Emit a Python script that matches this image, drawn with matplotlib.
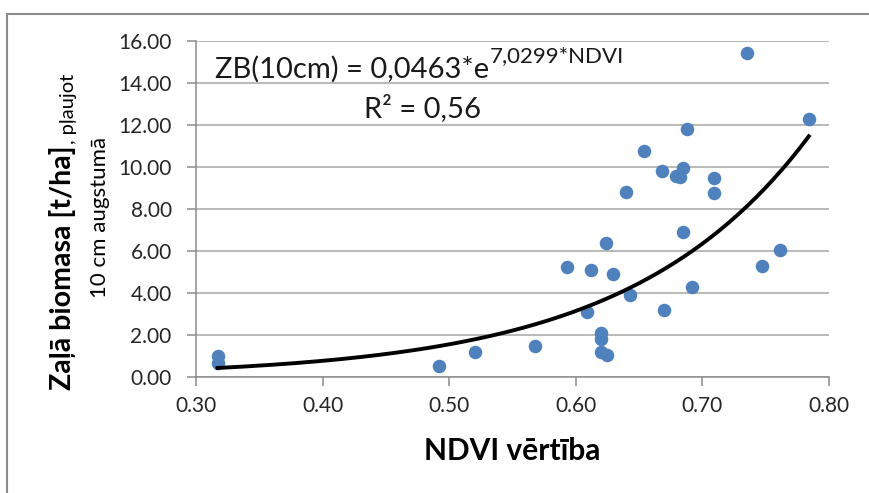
import numpy as np
import matplotlib
matplotlib.use('Agg')
import matplotlib.pyplot as plt
from matplotlib.patches import Rectangle

plt.rcParams['font.family'] = ['Lato', 'DejaVu Sans']

# NDVI un zaļā biomasa (nolasīts no attēla)
ndvi = [0.317, 0.317, 0.492, 0.520, 0.568, 0.593, 0.612, 0.609, 0.624, 0.629,
        0.620, 0.620, 0.620, 0.625, 0.643, 0.640, 0.654, 0.668, 0.670, 0.679,
        0.682, 0.685, 0.685, 0.688, 0.692, 0.709, 0.709, 0.735, 0.747, 0.761,
        0.784]
biomasa = [0.98, 0.65, 0.52, 1.17, 1.48, 5.22, 5.09, 3.11, 6.39, 4.89,
           2.11, 1.81, 1.18, 1.07, 3.91, 8.82, 10.76, 9.79, 3.17, 9.59,
           9.51, 9.97, 6.92, 11.8, 4.29, 9.46, 8.77, 15.44, 5.27, 6.03,
           12.3]

# trenda līnijas koeficienti
a_coef = 0.0463
b_coef = 7.0299
xticks = [0.30, 0.40, 0.50, 0.60, 0.70, 0.80]
yticks = [0, 2, 4, 6, 8, 10, 12, 14, 16]

W, H = 869, 493
fig = plt.figure(figsize=(W / 100, H / 100), dpi=100)
ax = fig.add_axes([196 / W, 1 - 377 / H, (829 - 196) / W, (377 - 41) / H])

# ramis ap diagrammu
fig.patches.append(Rectangle((7 / W, -0.1), 1.2, 1 - 14 / H + 0.1, transform=fig.transFigure,
                             fill=False, edgecolor='#8c8c8c', linewidth=1.5))

ax.scatter(ndvi, biomasa, s=95, color='#4f81bd', zorder=3, linewidths=0)
xx = np.linspace(min(ndvi), max(ndvi), 200)
ax.plot(xx, a_coef * np.exp(b_coef * xx), color='black', linewidth=2.8, zorder=4)

ax.set_xlim(0.3, 0.8)
ax.set_ylim(0, 16)
ax.set_xticks(xticks)
ax.set_yticks(yticks)
ax.set_xticklabels(['%.2f' % v for v in xticks])
ax.set_yticklabels(['%.2f' % v for v in yticks])
ax.grid(axis='y', color='#a6a6a6', linewidth=1.1)
ax.set_axisbelow(True)
for s in ['top', 'right']:
    ax.spines[s].set_visible(False)
for s in ['left', 'bottom']:
    ax.spines[s].set_color('#8c8c8c')
    ax.spines[s].set_linewidth(1.1)
ax.tick_params(axis='both', colors='#8c8c8c', labelcolor='#262626', labelsize=15,
               length=6.5, width=1.1, direction='out')
ax.tick_params(axis='x', pad=7)
ax.tick_params(axis='y', pad=11)

ax.set_xlabel('NDVI vērtība', fontsize=21.5, fontweight='bold', labelpad=15)

# vienādojums un R2
t_eq = fig.text(215 / W, 1 - 78 / H, 'ZB(10cm) = 0,0463*e', fontsize=21,
                ha='left', va='baseline', color='#1a1a1a')
fig.text(423 / W, 1 - 117 / H, 'R² = 0,56', fontsize=21, ha='center', va='baseline', color='#1a1a1a')

# y ass nosaukums
t1 = fig.text(71 / W, 1 - 390 / H, 'Zaļā biomasa [t/ha]', fontsize=20.5, fontweight='bold',
              rotation=90, rotation_mode='anchor', ha='left', va='baseline')
fig.canvas.draw()
bb_eq = t_eq.get_window_extent()
fig.text(bb_eq.x1 / W + 0.001, 1 - 62 / H, '7,0299*NDVI', fontsize=16,
         ha='left', va='baseline', color='#1a1a1a')
bb = t1.get_window_extent()
fig.text(74 / W, bb.y1 / H + 0.002, ', pļaujot', fontsize=14.5,
         rotation=90, rotation_mode='anchor', ha='left', va='baseline')
fig.text(106 / W, 1 - 217 / H, '10 cm augstumā', fontsize=16,
         rotation=90, rotation_mode='anchor', ha='center', va='baseline')

fig.savefig('out.png', dpi=100, facecolor='white')
